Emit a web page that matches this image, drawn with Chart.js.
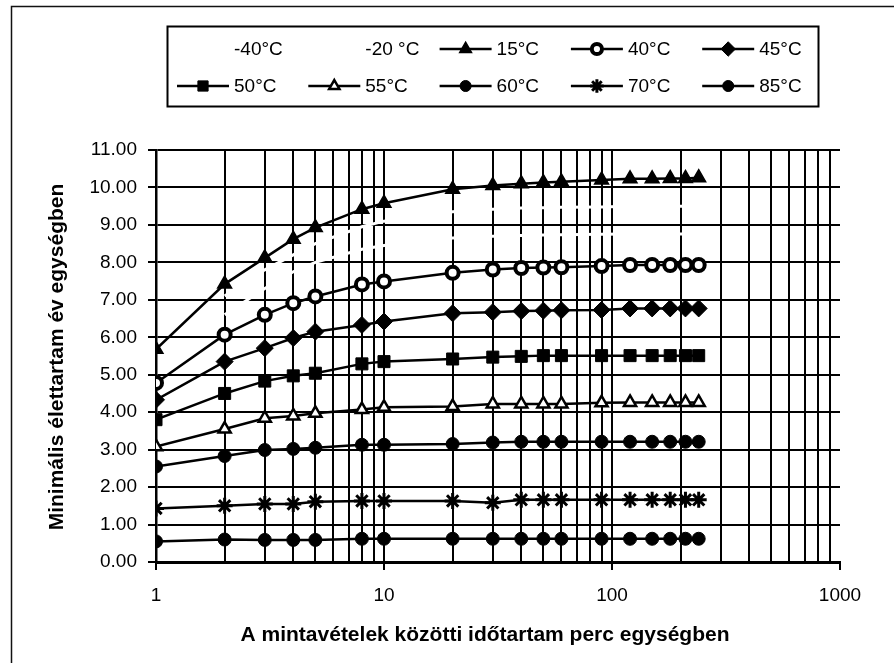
<!DOCTYPE html>
<html>
<head>
<meta charset="utf-8">
<script src="https://cdn.jsdelivr.net/npm/chart.js@4.4.1/dist/chart.umd.min.js"></script>
<style>
  html, body { margin: 0; padding: 0; background: #fff; }
  #wrap { width: 894px; height: 663px; position: relative; }
</style>
</head>
<body>
<div id="wrap"><canvas id="c" width="894" height="663"></canvas></div>
<script>
// ---- data ----
const xValues = [1, 2, 3, 4, 5, 8, 10, 20, 30, 40, 50, 60, 90, 120, 150, 180, 210, 240];
const xGridValues = [1,2,3,4,5,6,7,8,9,10,20,30,40,50,60,70,80,90,100,200,300,400,500,600,700,800,900,1000];
const xTickLabels = [1, 10, 100, 1000];
const yTickValues = [0,1,2,3,4,5,6,7,8,9,10,11];

const seriesLabels = ['-40°C', '-20 °C', '15°C', '40°C', '45°C', '50°C', '55°C', '60°C', '70°C', '85°C'];
const sMinus40 = [null, 7.1, 7.8, 8.2, 8.5, 8.95, 9.1, 9.35, 9.42, 9.45, 9.46, 9.47, 9.48, 9.5, 9.5, 9.5, 9.5, 9.5];
const sMinus20 = [null, 6.6, 7.3, 7.75, 8.0, 8.35, 8.45, 8.65, 8.7, 8.72, 8.73, 8.74, 8.75, 8.76, 8.76, 8.76, 8.76, 8.76];
const s15 = [5.68, 7.42, 8.12, 8.62, 8.93, 9.42, 9.58, 9.95, 10.05, 10.1, 10.13, 10.15, 10.2, 10.23, 10.23, 10.24, 10.24, 10.26];
const s40 = [4.78, 6.07, 6.6, 6.91, 7.09, 7.41, 7.49, 7.72, 7.81, 7.85, 7.86, 7.87, 7.9, 7.93, 7.93, 7.93, 7.93, 7.93];
const s45 = [4.33, 5.35, 5.71, 5.98, 6.15, 6.33, 6.42, 6.64, 6.67, 6.7, 6.71, 6.72, 6.73, 6.77, 6.77, 6.77, 6.77, 6.77];
const s50 = [3.8, 4.5, 4.83, 4.97, 5.04, 5.29, 5.35, 5.42, 5.47, 5.49, 5.51, 5.51, 5.51, 5.51, 5.51, 5.51, 5.51, 5.51];
const s55 = [3.08, 3.55, 3.84, 3.9, 3.97, 4.07, 4.13, 4.15, 4.22, 4.22, 4.22, 4.22, 4.25, 4.26, 4.26, 4.26, 4.26, 4.26];
const s60 = [2.55, 2.83, 2.99, 3.02, 3.05, 3.13, 3.13, 3.15, 3.19, 3.21, 3.21, 3.21, 3.21, 3.21, 3.21, 3.21, 3.21, 3.21];
const s70 = [1.43, 1.5, 1.55, 1.55, 1.61, 1.63, 1.63, 1.63, 1.58, 1.66, 1.66, 1.66, 1.66, 1.66, 1.66, 1.66, 1.66, 1.66];
const s85 = [0.55, 0.6, 0.59, 0.59, 0.59, 0.62, 0.62, 0.62, 0.62, 0.62, 0.62, 0.62, 0.62, 0.62, 0.62, 0.62, 0.62, 0.62];

const xTitle = 'A mintavételek közötti időtartam perc egységben';
const yTitle = 'Minimális élettartam év egységben';

// ---- styles ----
const FONT = 'Arial, "Liberation Sans", sans-serif';
Chart.defaults.font.family = FONT;
Chart.defaults.color = '#000';

function pts(arr) { return arr.map((v, i) => ({ x: xValues[i], y: v })); }

function series(label, values, style) {
  return Object.assign({
    label: label,
    data: pts(values),
    borderColor: '#000',
    borderWidth: 2.5,
    pointBackgroundColor: '#000',
    pointBorderColor: '#000',
    pointBorderWidth: 1,
    pointRadius: 6,
    pointStyle: 'circle',
    tension: 0,
    order: 0,
    spanGaps: false
  }, style);
}

const datasets = [
  series(seriesLabels[0], sMinus40, { borderColor: '#fff', pointRadius: 0, borderWidth: 3, order: 1 }),
  series(seriesLabels[1], sMinus20, { borderColor: '#fff', pointRadius: 0, borderWidth: 3, order: 1 }),
  series(seriesLabels[2], s15, { pointStyle: 'triangle', pointRadius: 8, pointBorderWidth: 1.5 }),
  series(seriesLabels[3], s40, { pointStyle: 'circle', pointRadius: 6, pointBackgroundColor: '#fff', pointBorderWidth: 4 }),
  series(seriesLabels[4], s45, { pointStyle: 'rectRot', pointRadius: 8.5 }),
  series(seriesLabels[5], s50, { pointStyle: 'rect', pointRadius: 8.5 }),
  series(seriesLabels[6], s55, { pointStyle: 'triangle', pointRadius: 7, pointBackgroundColor: '#fff', pointBorderWidth: 2.5 }),
  series(seriesLabels[7], s60, { pointStyle: 'circle', pointRadius: 6.5 }),
  series(seriesLabels[8], s70, { pointStyle: 'star', pointRadius: 8, pointBorderWidth: 3 }),
  series(seriesLabels[9], s85, { pointStyle: 'circle', pointRadius: 6.5 })
];

function drawMarker(ctx, ds, x, y) {
  ctx.fillStyle = ds.pointBackgroundColor;
  ctx.strokeStyle = ds.pointBorderColor;
  ctx.lineWidth = ds.pointBorderWidth;
  if (Chart.helpers && Chart.helpers.drawPoint) {
    Chart.helpers.drawPoint(ctx, { pointStyle: ds.pointStyle, radius: ds.pointRadius, borderWidth: ds.pointBorderWidth, rotation: 0 }, x, y);
  } else {
    ctx.beginPath(); ctx.arc(x, y, ds.pointRadius, 0, Math.PI * 2); ctx.fill(); ctx.stroke();
  }
}

const decorPlugin = {
  id: 'decor',
  beforeDraw(chart) {
    const ctx = chart.ctx;
    ctx.save();
    ctx.fillStyle = '#fff';
    ctx.fillRect(0, 0, chart.width, chart.height);
    ctx.strokeStyle = '#111';
    ctx.lineWidth = 1.5;
    ctx.beginPath();
    ctx.moveTo(11.5, chart.height);
    ctx.lineTo(11.5, 6.5);
    ctx.lineTo(chart.width, 6.5);
    ctx.stroke();
    ctx.restore();
  },
  afterDraw(chart) {
    const ctx = chart.ctx;
    ctx.save();
    // legend box
    ctx.strokeStyle = '#000';
    ctx.lineWidth = 2;
    ctx.strokeRect(167.5, 26.5, 651, 80);
    chart.data.datasets.forEach((ds, i) => {
      const row = Math.floor(i / 5), col = i % 5;
      const x0 = 177 + col * 131.3, y = 49 + row * 37;
      ctx.strokeStyle = ds.borderColor;
      ctx.lineWidth = ds.borderWidth;
      ctx.beginPath(); ctx.moveTo(x0, y); ctx.lineTo(x0 + 52, y); ctx.stroke();
      if (ds.pointRadius > 0) drawMarker(ctx, Object.assign({}, ds, { pointRadius: ds.pointRadius * 0.85 }), x0 + 26, y);
      ctx.fillStyle = '#000';
      ctx.font = '19px ' + FONT;
      ctx.textAlign = 'left';
      ctx.textBaseline = 'middle';
      ctx.fillText(ds.label, x0 + 57, y + 1);
    });
    // axis titles
    ctx.fillStyle = '#000';
    ctx.font = 'bold 21px ' + FONT;
    ctx.textAlign = 'center';
    ctx.textBaseline = 'middle';
    ctx.fillText(xTitle, 485, 635);
    ctx.translate(57, 357);
    ctx.rotate(-Math.PI / 2);
    ctx.fillText(yTitle, 0, 0);
    ctx.restore();
  }
};

new Chart(document.getElementById('c'), {
  type: 'line',
  data: { datasets: datasets },
  plugins: [decorPlugin],
  options: {
    responsive: false,
    animation: false,
    events: [],
    layout: { padding: { top: 150, right: 54, left: 0, bottom: 0 } },
    plugins: { legend: { display: false }, tooltip: { enabled: false } },
    scales: {
      x: {
        type: 'logarithmic',
        min: 1, max: 1000,
        afterBuildTicks(scale) { scale.ticks = xGridValues.map(v => ({ value: v })); },
        afterFit(scale) { scale.height = 101; },
        ticks: {
          autoSkip: false, maxRotation: 0, padding: 14,
          font: { size: 19 },
          callback: (v) => xTickLabels.includes(v) ? String(v) : ''
        },
        grid: {
          color: (c) => (c.tick && c.tick.value === 1000) ? 'rgba(0,0,0,0)' : '#000',
          lineWidth: 2,
          tickLength: 8,
          tickColor: (c) => (c.tick && xTickLabels.includes(c.tick.value)) ? '#000' : 'rgba(0,0,0,0)',
          tickWidth: 2
        },
        border: { color: '#000', width: 3 }
      },
      y: {
        type: 'linear',
        min: 0, max: 11,
        afterBuildTicks(scale) { scale.ticks = yTickValues.map(v => ({ value: v })); },
        afterFit(scale) { scale.width = 156; },
        ticks: {
          padding: 11,
          font: { size: 19 },
          callback: (v) => Number(v).toFixed(2)
        },
        grid: { color: '#000', lineWidth: 2, tickLength: 8, tickColor: '#000', tickWidth: 2 },
        border: { color: '#000', width: 2.5 }
      }
    }
  }
});
</script>
</body>
</html>
